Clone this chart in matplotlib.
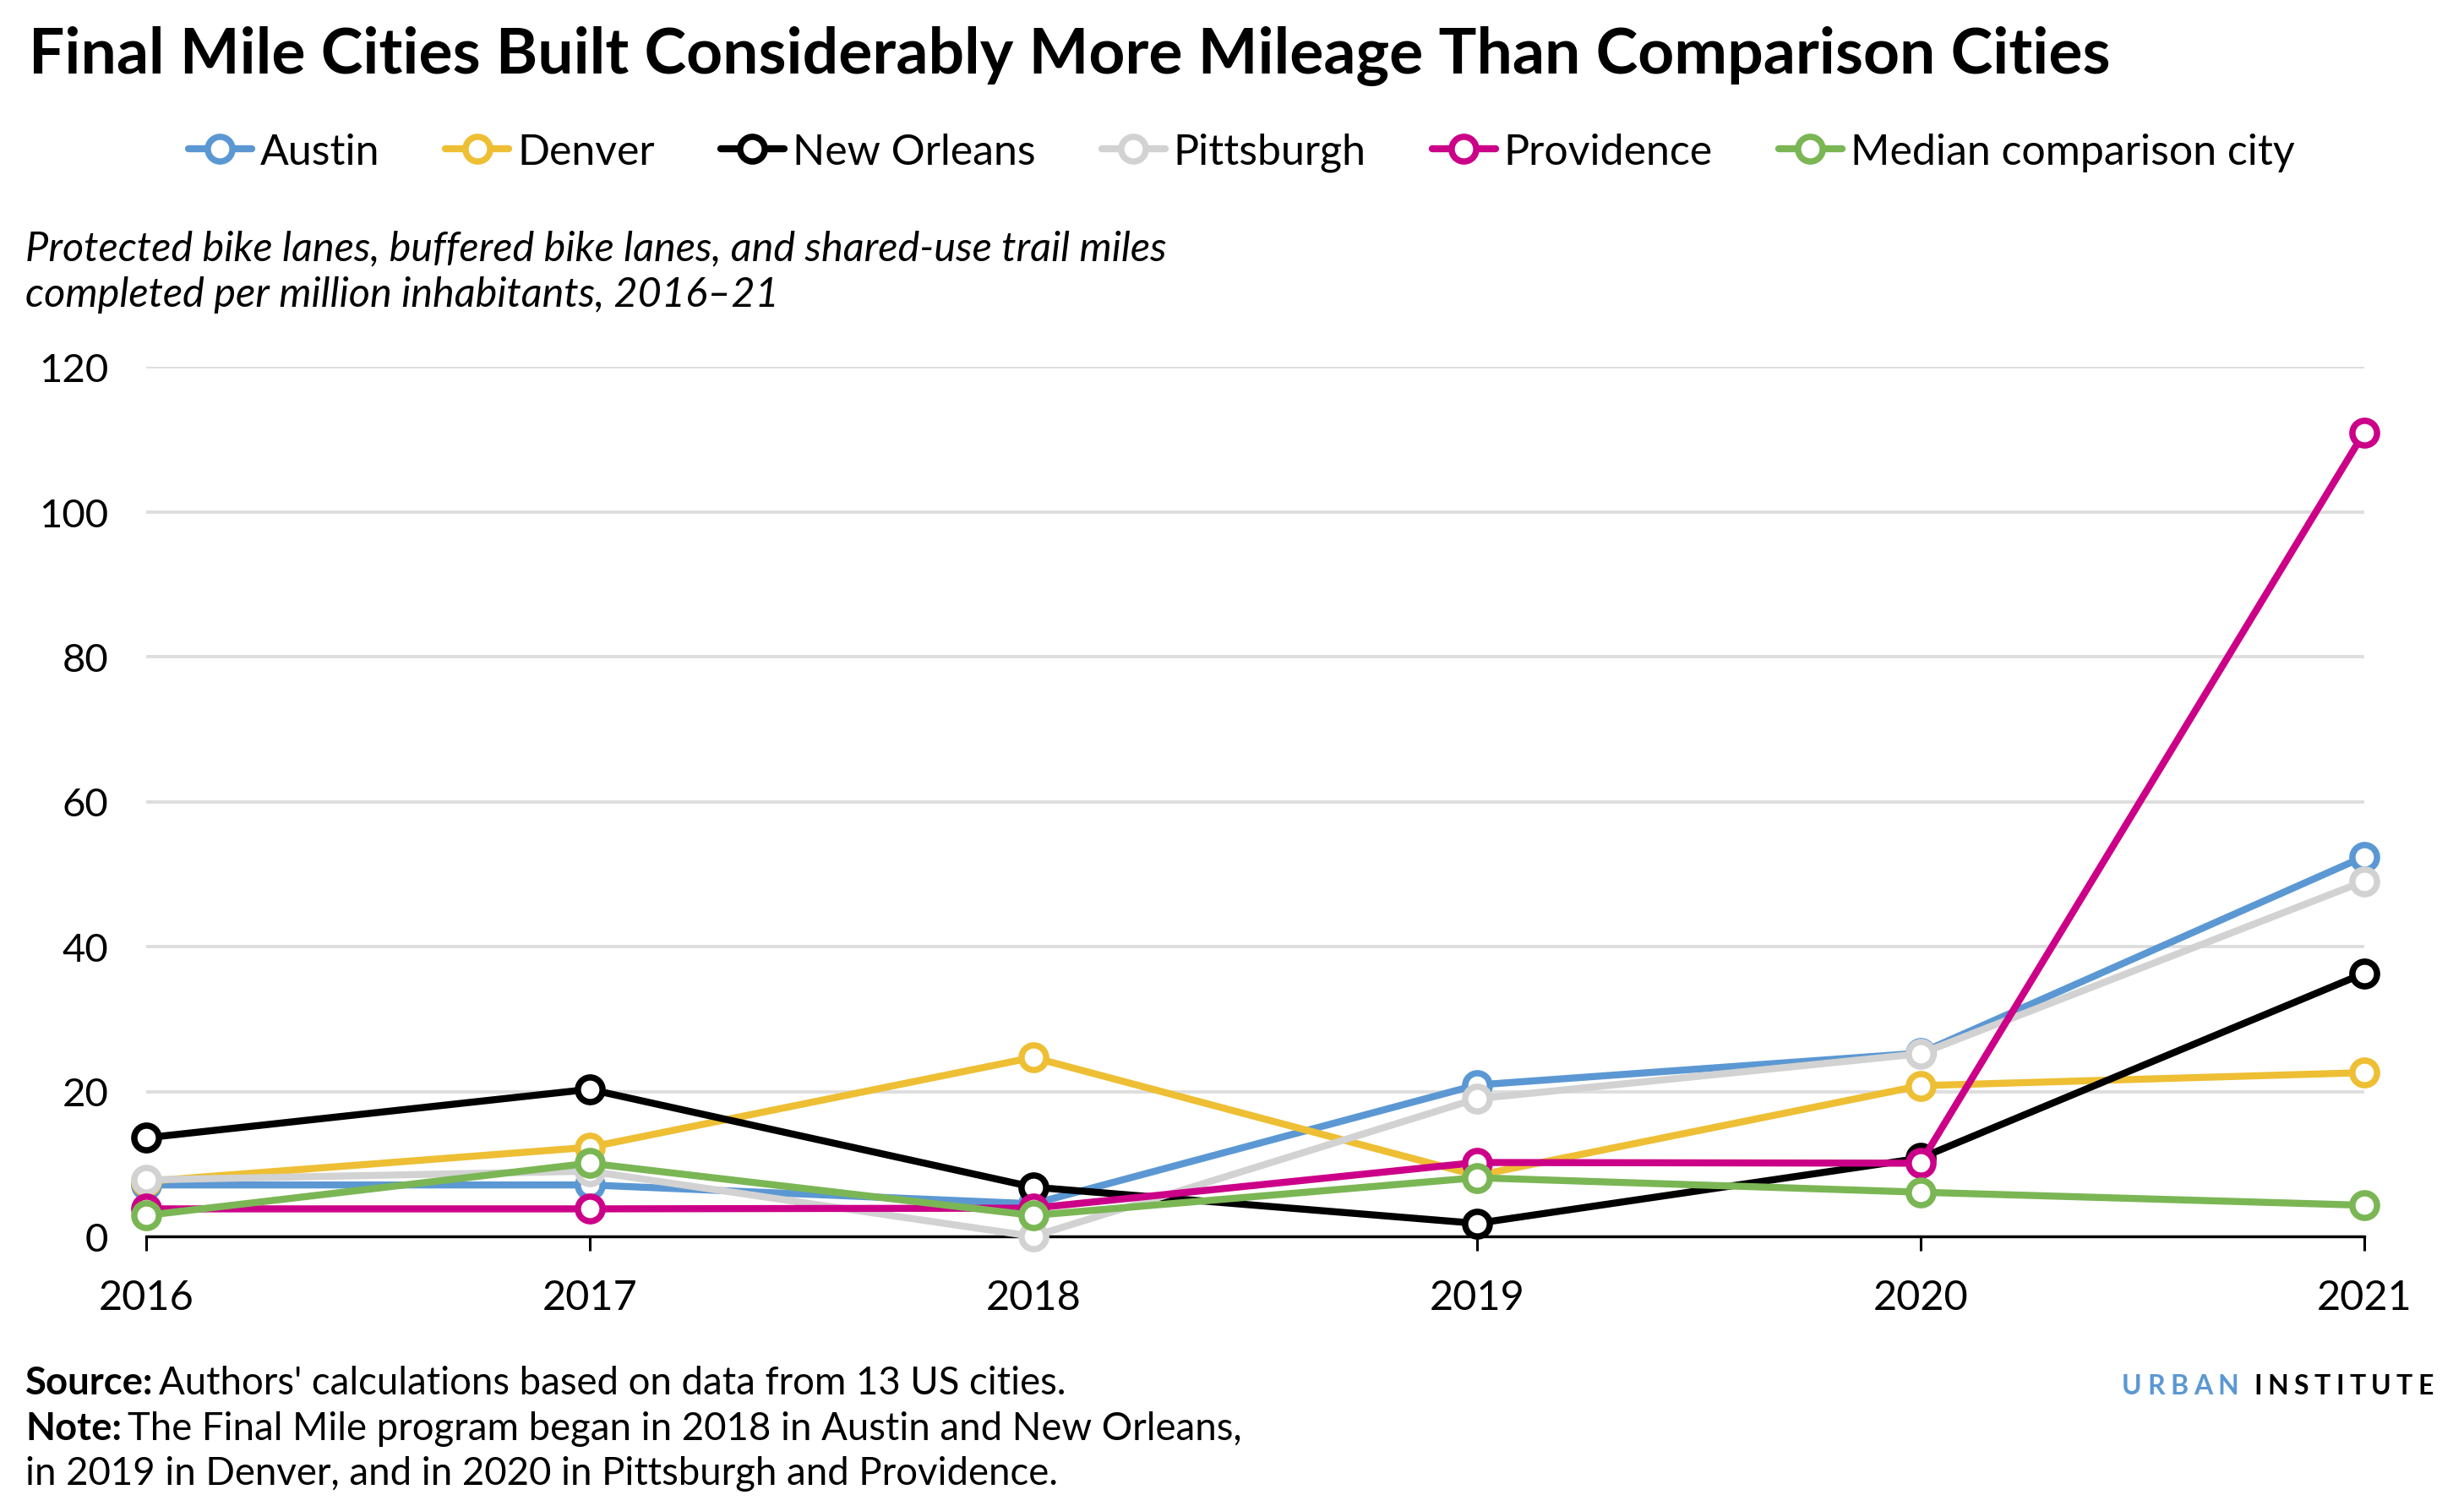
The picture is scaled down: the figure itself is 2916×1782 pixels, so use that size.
import matplotlib
matplotlib.use('Agg')
import matplotlib.pyplot as plt

plt.rcParams['font.family'] = ['Lato', 'DejaVu Sans']

years = [2016, 2017, 2018, 2019, 2020, 2021]
cities = ['Austin', 'Denver', 'New Orleans', 'Pittsburgh', 'Providence', 'Median comparison city']
austin = [7.1, 7.1, 4.5, 20.9, 25.3, 52.4]
denver = [7.6, 12.3, 24.7, 8.4, 20.8, 22.6]
new_orleans = [13.6, 20.3, 6.8, 1.8, 10.8, 36.3]
pittsburgh = [7.8, 9.0, 0.0, 19.0, 25.2, 49.0]
providence = [3.8, 3.8, 3.9, 10.2, 10.1, 110.9]
median_city = [2.9, 10.1, 2.9, 8.1, 6.1, 4.3]
series = [austin, denver, new_orleans, pittsburgh, providence, median_city]
colors = ['#5b98d3', '#eebf34', '#000000', '#d2d2d2', '#cc0088', '#7bb655']

W, H, DPI = 2916, 1783, 200
fig = plt.figure(figsize=(W / DPI, H / DPI), dpi=DPI)
ax = fig.add_axes([172.7 / W, 1 - 1464 / H, (2797.7 - 172.7) / W, (1464 - 435) / H])

for name, vals, c in zip(cities, series, colors):
    ax.plot(years, vals, color=c, lw=3.0, marker='o', ms=10.5, mfc='white', mec=c, mew=2.7,
            label=name, clip_on=False, solid_joinstyle='round', solid_capstyle='round')

ax.set_xlim(2016, 2021)
ax.set_ylim(0, 120)
ax.set_xticks(years)
ax.set_yticks(range(0, 121, 20))
ax.grid(axis='y', color='#dedede', lw=1.4)
ax.set_axisbelow(True)
for s in ['top', 'right', 'left']:
    ax.spines[s].set_visible(False)
ax.spines['bottom'].set_linewidth(1.2)
ax.spines['bottom'].set_zorder(1.5)
ax.tick_params(axis='y', length=0, pad=16, labelsize=17)
ax.tick_params(axis='x', length=6, width=1.1, pad=12, labelsize=17.5)

fig.text(34 / W, 1 - 67 / H, 'Final Mile Cities Built Considerably More Mileage Than Comparison Cities',
         fontsize=27, fontweight='bold', va='center', ha='left')

handles, labels = ax.get_legend_handles_labels()
for h in handles:
    h.set_solid_capstyle('round')
fig.legend(handles, labels, loc='center', bbox_to_anchor=(1469 / W, 1 - 181 / H), ncol=6,
           frameon=False, fontsize=18, handlelength=1.5, handletextpad=0.2,
           columnspacing=1.56, borderaxespad=0)

fig.text(30 / W, 1 - 322 / H,
         'Protected bike lanes, buffered bike lanes, and shared-use trail miles\n'
         'completed per million inhabitants, 2016\u201321',
         fontsize=17.5, style='italic', va='center', ha='left', linespacing=1.3)

fig.canvas.draw()
r = fig.canvas.get_renderer()


def bold_lead(y, lead, rest):
    t = fig.text(30 / W, 1 - y / H, lead, fontsize=16.4, fontweight='bold', va='center', ha='left')
    bb = t.get_window_extent(renderer=r)
    fig.text((bb.x1 + 7) / W, 1 - y / H, rest, fontsize=16.4, va='center', ha='left')


bold_lead(1637, 'Source:', "Authors' calculations based on data from 13 US cities.")
bold_lead(1691, 'Note:', 'The Final Mile program began in 2018 in Austin and New Orleans,')
fig.text(30 / W, 1 - 1744 / H, 'in 2019 in Denver, and in 2020 in Pittsburgh and Providence.',
         fontsize=16.4, va='center', ha='left')

# URBAN INSTITUTE wordmark, letter-spaced
x = 2511
for word, col in [('URBAN', '#5b98d3'), ('INSTITUTE', '#000000')]:
    for ch in word:
        t = fig.text(x / W, 1 - 1641 / H, ch, fontsize=11.5, fontweight='bold', color=col,
                     va='center', ha='left')
        x = t.get_window_extent(renderer=r).x1 + 6.5
    x += 11

fig.savefig('out.png', dpi=DPI)
